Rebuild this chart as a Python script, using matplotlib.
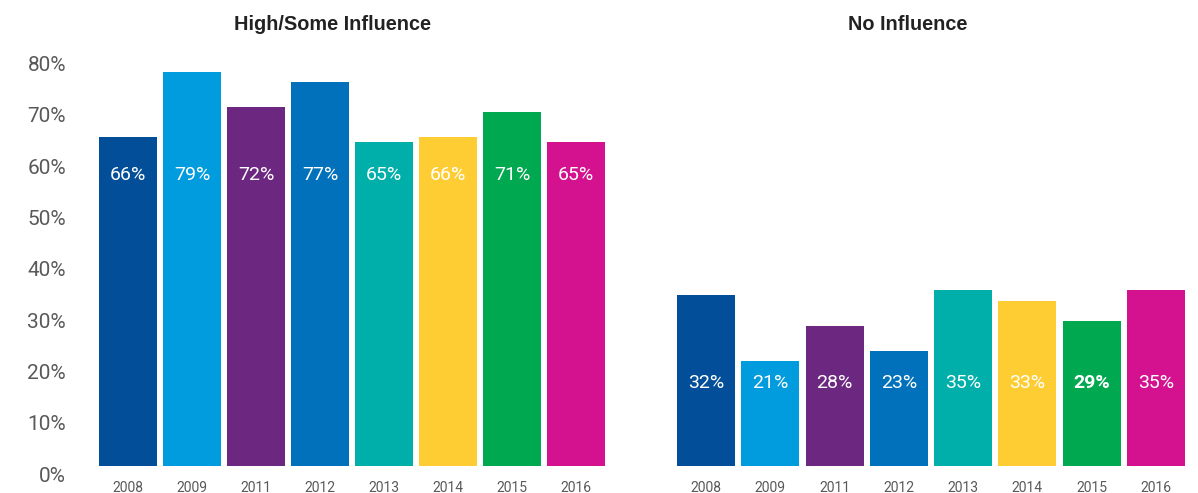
import numpy as np
import matplotlib
matplotlib.use("Agg")
import matplotlib.pyplot as plt

# data
years = ["2008", "2009", "2011", "2012", "2013", "2014", "2015", "2016"]
high_vals = [65.7, 78.4, 71.5, 76.5, 64.7, 65.7, 70.6, 64.7]
high_labels = ["66%", "79%", "72%", "77%", "65%", "66%", "71%", "65%"]
none_vals = [34.8, 22.1, 28.9, 24.0, 35.8, 33.8, 29.8, 35.8]
none_labels = ["32%", "21%", "28%", "23%", "35%", "33%", "29%", "35%"]
none_bold = [False, False, False, False, False, False, True, False]
yticks = [0, 10, 20, 30, 40, 50, 60, 70, 80]

colors = ["#034E98", "#009CDE", "#6C2880", "#0071BA",
          "#00AFA9", "#FDCD33", "#00A94F", "#D4118E"]

W, H = 1198, 493
fig = plt.figure(figsize=(W / 100, H / 100), dpi=100)

px = 5.13           # pixels per percent
y0 = 474            # pixel row of 0%
ymax = 82
bar_floor = 1.6     # bars stop a little above the 0% line
bw = 0.906
grey = "#595959"


def panel(left_px, width_px, vals, labels, label_y, bold=None, show_y=False):
    ax = fig.add_axes([left_px / W, (H - y0) / H, width_px / W, ymax * px / H])
    x = np.arange(len(vals))
    ax.bar(x, np.array(vals) - bar_floor, bottom=bar_floor, width=bw,
           color=colors, linewidth=0)
    for i, lab in enumerate(labels):
        w = "bold" if (bold and bold[i]) else "normal"
        ax.text(x[i], label_y, lab, ha="center", va="center", color="white",
                fontsize=14, family="Roboto", fontweight=w)
    ax.set_xlim(-bw / 2, len(vals) - 1 + bw / 2)
    ax.set_ylim(0, ymax)
    ax.set_xticks(x)
    ax.set_xticklabels(years, fontsize=10, color=grey, family="Roboto")
    ax.tick_params(axis="x", length=0, pad=5)
    if show_y:
        ax.set_yticks(yticks)
        ax.set_yticklabels([f"{t}%" for t in yticks], fontsize=15,
                           color=grey, family="Roboto")
        ax.tick_params(axis="y", length=0, pad=24)
    else:
        ax.set_yticks([])
    for s in ax.spines.values():
        s.set_visible(False)
    return ax


panel(99.3, 506, high_vals, high_labels, 58.3, show_y=True)
panel(677, 508, none_vals, none_labels, 17.7, bold=none_bold)

fig.text(333 / W, 1 - 24 / H, "High/Some Influence", ha="center", va="center",
         fontsize=14.3, fontweight="bold", family="Liberation Sans", color="#222222")
fig.text(908 / W, 1 - 24 / H, "No Influence", ha="center", va="center",
         fontsize=14.3, fontweight="bold", family="Liberation Sans", color="#222222")

fig.savefig("out.png", dpi=100)
